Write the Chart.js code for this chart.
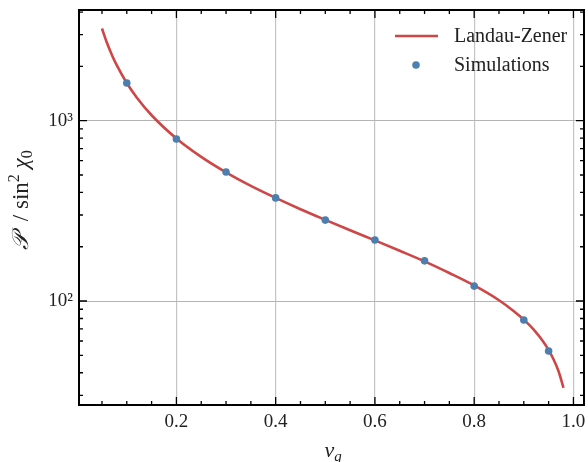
<!DOCTYPE html>
<html>
<head>
<meta charset="utf-8">
<script src="https://cdn.jsdelivr.net/npm/chart.js@4.4.1/dist/chart.umd.min.js"></script>
<style>
  html, body { margin: 0; padding: 0; background: #fff; }
</style>
</head>
<body>
<canvas id="lzChart" width="588" height="462"></canvas>
<script>
// Landau-Zener curve
const curveV = [0.05, 0.06, 0.07, 0.08, 0.10, 0.12, 0.15, 0.20, 0.25, 0.30, 0.35, 0.40, 0.45, 0.50,
                0.55, 0.60, 0.65, 0.70, 0.75, 0.80, 0.85, 0.88, 0.90, 0.92, 0.94, 0.95, 0.96, 0.97, 0.98];
const curveP = [3248, 2705, 2317, 2026, 1618, 1345, 1072, 797, 630, 517, 435, 373, 323, 282,
                247, 217, 190, 166, 143, 122, 101, 87.8, 78.8, 69.3, 59.0, 53.4, 47.4, 40.8, 33.0];

// simulation points
const simV = [0.1, 0.2, 0.3, 0.4, 0.5, 0.6, 0.7, 0.8, 0.9, 0.95];
const simP = [1618, 792, 519, 373, 281, 218, 167, 121, 78.5, 52.8];

const xTicks = [0.2, 0.4, 0.6, 0.8, 1.0];
const xTickLabels = ['0.2', '0.4', '0.6', '0.8', '1.0'];
const yTicks = [100, 1000];
const yTickLabels = ['10²', '10³'];
const xMinor = [0.05, 0.1, 0.15, 0.25, 0.3, 0.35, 0.45, 0.5, 0.55, 0.65, 0.7, 0.75, 0.85, 0.9, 0.95];
const yMinor = [30, 40, 50, 60, 70, 80, 90, 200, 300, 400, 500, 600, 700, 800, 900, 2000, 3000, 4000];

const SERIF = '"Liberation Serif", "DejaVu Serif", serif';
const RED = '#cf4646';
const BLUE = '#4d7fae';

// frame, inward ticks, axis titles and legend
const decorations = {
    id: 'decorations',
    afterDraw(chart) {
        const ctx = chart.ctx;
        const a = chart.chartArea;
        const xs = chart.scales.x, ys = chart.scales.y;
        ctx.save();

        ctx.strokeStyle = '#000';
        ctx.lineWidth = 1.3;
        function tickX(v, len) {
            const px = xs.getPixelForValue(v);
            ctx.beginPath();
            ctx.moveTo(px, a.bottom); ctx.lineTo(px, a.bottom - len);
            ctx.moveTo(px, a.top); ctx.lineTo(px, a.top + len);
            ctx.stroke();
        }
        function tickY(v, len) {
            const py = ys.getPixelForValue(v);
            ctx.beginPath();
            ctx.moveTo(a.left, py); ctx.lineTo(a.left + len, py);
            ctx.moveTo(a.right, py); ctx.lineTo(a.right - len, py);
            ctx.stroke();
        }
        xTicks.forEach(v => tickX(v, 8));
        xMinor.forEach(v => tickX(v, 4));
        yTicks.forEach(v => tickY(v, 8));
        yMinor.forEach(v => tickY(v, 4));

        ctx.lineWidth = 2;
        ctx.strokeRect(a.left, a.top, a.right - a.left, a.bottom - a.top);

        // x title: v_g
        ctx.fillStyle = '#222';
        ctx.textBaseline = 'alphabetic';
        ctx.textAlign = 'left';
        const cx = (a.left + a.right) / 2;
        ctx.font = 'italic 22px ' + SERIF;
        const vw = ctx.measureText('v').width;
        ctx.fillText('v', cx - 7, 457);
        ctx.font = 'italic 15px ' + SERIF;
        ctx.fillText('g', cx - 7 + vw, 461);

        // y title: P / sin^2 chi_0
        const parts = [
            { t: '𝒫', f: 'italic 23px ' + SERIF, dy: 0 },
            { t: '  / sin', f: '23px ' + SERIF, dy: 0 },
            { t: '2', f: '16px ' + SERIF, dy: -9 },
            { t: ' χ', f: 'italic 23px ' + SERIF, dy: 0 },
            { t: '0', f: '16px ' + SERIF, dy: 4 }
        ];
        let total = 0;
        parts.forEach(p => { ctx.font = p.f; p.w = ctx.measureText(p.t).width; total += p.w; });
        ctx.translate(28, 200);
        ctx.rotate(-Math.PI / 2);
        let px = -total / 2;
        parts.forEach(p => { ctx.font = p.f; ctx.fillText(p.t, px, p.dy); px += p.w; });
        ctx.setTransform(1, 0, 0, 1, 0, 0);

        // legend
        ctx.strokeStyle = RED;
        ctx.lineWidth = 2.6;
        ctx.beginPath();
        ctx.moveTo(395, 36); ctx.lineTo(438, 36);
        ctx.stroke();
        ctx.fillStyle = BLUE;
        ctx.beginPath();
        ctx.arc(416, 65, 3.8, 0, Math.PI * 2);
        ctx.fill();
        ctx.fillStyle = '#222';
        ctx.font = '20px ' + SERIF;
        ctx.textBaseline = 'middle';
        ctx.fillText('Landau-Zener', 454, 37);
        ctx.fillText('Simulations', 454, 66);

        ctx.restore();
    }
};

const ctx = document.getElementById('lzChart').getContext('2d');

new Chart(ctx, {
    type: 'line',
    data: {
        datasets: [
            {
                type: 'scatter',
                label: 'Simulations',
                data: simV.map((v, i) => ({ x: v, y: simP[i] })),
                backgroundColor: BLUE,
                borderWidth: 0,
                pointRadius: 3.8,
                order: 0
            },
            {
                label: 'Landau-Zener',
                data: curveV.map((v, i) => ({ x: v, y: curveP[i] })),
                borderColor: RED,
                borderWidth: 2.6,
                pointRadius: 0,
                cubicInterpolationMode: 'monotone',
                fill: false,
                order: 1
            }
        ]
    },
    options: {
        responsive: false,
        animation: false,
        layout: { padding: { top: 10, right: 4, left: 0, bottom: 0 } },
        plugins: {
            legend: { display: false },
            tooltip: { enabled: false }
        },
        scales: {
            x: {
                type: 'linear',
                min: 0.0037,
                max: 1.0213,
                afterBuildTicks: s => { s.ticks = xTicks.map(v => ({ value: v })); },
                afterFit: s => { s.height = 57; s.paddingLeft = 0; s.paddingRight = 0; },
                ticks: {
                    color: '#222',
                    font: { family: SERIF, size: 19 },
                    padding: 6,
                    maxRotation: 0,
                    callback: (v) => xTickLabels[xTicks.indexOf(v)]
                },
                grid: { color: '#c4c4c4', lineWidth: 1.2, drawTicks: false },
                border: { display: false }
            },
            y: {
                type: 'logarithmic',
                min: 26.5,
                max: 4111,
                afterBuildTicks: s => { s.ticks = yTicks.map(v => ({ value: v })); },
                afterFit: s => { s.width = 79; s.paddingTop = 0; s.paddingBottom = 0; },
                ticks: {
                    color: '#222',
                    font: { family: SERIF, size: 19 },
                    padding: 6,
                    callback: (v) => yTickLabels[yTicks.indexOf(v)]
                },
                grid: { color: '#b4b4b4', lineWidth: 1, drawTicks: false },
                border: { display: false }
            }
        }
    },
    plugins: [decorations]
});
</script>
</body>
</html>
